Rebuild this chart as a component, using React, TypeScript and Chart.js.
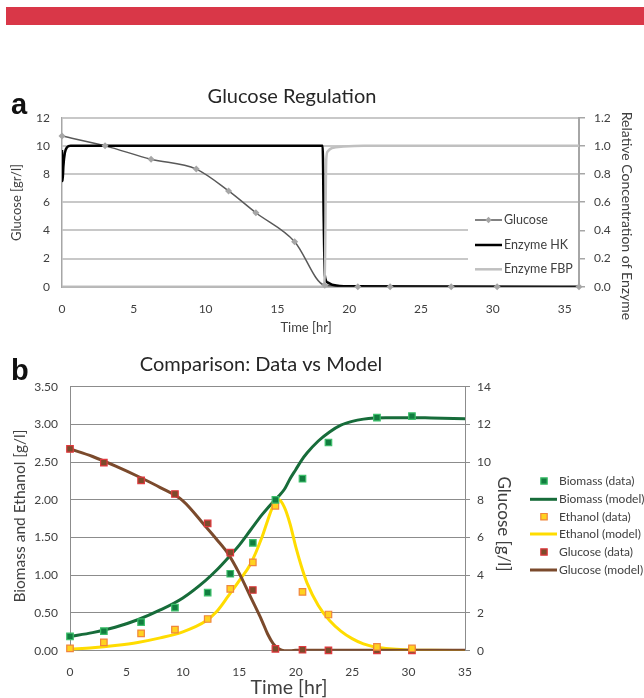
import React, { useEffect, useRef } from 'react';
import { Chart, registerables } from 'chart.js';

Chart.register(...registerables);

const FONT = 'Lato, "Open Sans", "Noto Sans", sans-serif';
const TXT = '#404040';

// ---------- Panel a: Glucose Regulation ----------
const timeGlucoseA = [0, 3.0, 6.2, 9.35, 11.6, 13.5, 16.2, 18.3, 20.6, 22.85, 27.1, 30.3, 36];
const glucoseA = [10.7, 10.0, 9.05, 8.35, 6.8, 5.25, 3.2, 0.1, 0, 0, 0, 0, 0];
const timeHK = [0, 0.04, 0.1, 0.2, 0.35, 0.6, 18.15, 18.22, 18.3, 18.5, 18.9, 20, 36];
const enzymeHK = [0.97, 0.75, 0.86, 0.95, 0.99, 1.0, 1.0, 0.5, 0.08, 0.03, 0.012, 0.003, 0];
const timeFBP = [0, 18.2, 18.3, 18.4, 18.5, 18.8, 19.6, 21, 36];
const enzymeFBP = [0, 0, 0.1, 0.9, 0.96, 0.985, 0.995, 1.0, 1.0];
const labelsA = ['Glucose', 'Enzyme HK', 'Enzyme FBP'];

// ---------- Panel b: Comparison: Data vs Model ----------
const timeData = [0, 3, 6.3, 9.3, 12.2, 14.2, 16.2, 18.2, 20.6, 22.9, 27.2, 30.3];
const biomassData = [0.19, 0.26, 0.38, 0.57, 0.77, 1.02, 1.43, 2.0, 2.28, 2.76, 3.09, 3.11];
const ethanolData = [0.03, 0.11, 0.23, 0.28, 0.42, 0.82, 1.17, 1.92, 0.78, 0.48, 0.05, 0.03];
const glucoseData = [10.7, 9.97, 9.03, 8.31, 6.75, 5.2, 3.22, 0.1, 0.05, 0.02, 0.02, 0.02];

const timeModel = [0, 2, 4, 6, 8, 10, 12, 13, 14, 15, 16, 17, 17.5, 18, 18.5, 19, 19.5, 20, 20.5, 21, 22, 23, 24, 25, 26, 27, 28, 30, 32, 35];
const biomassModel = [0.19, 0.24, 0.31, 0.41, 0.54, 0.7, 0.93, 1.07, 1.23, 1.4, 1.6, 1.8, 1.89, 1.97, 2.05, 2.14, 2.28, 2.4, 2.52, 2.62, 2.78, 2.9, 2.99, 3.04, 3.07, 3.085, 3.09, 3.09, 3.085, 3.075];
const ethanolModel = [0.02, 0.04, 0.07, 0.11, 0.17, 0.25, 0.39, 0.52, 0.72, 0.93, 1.15, 1.5, 1.72, 1.92, 2.0, 1.9, 1.68, 1.38, 1.12, 0.9, 0.6, 0.4, 0.26, 0.16, 0.09, 0.05, 0.03, 0.01, 0.005, 0];
const glucoseModel = [10.7, 10.3, 9.8, 9.25, 8.65, 7.95, 6.6, 5.9, 5.15, 4.1, 2.85, 1.6, 0.9, 0.38, 0.1, 0, 0, 0.02, 0.03, 0.03, 0.03, 0.02, 0.02, 0.02, 0.02, 0.02, 0.02, 0.02, 0.02, 0.02];
const labelsB = ['Biomass (data)', 'Biomass (model)', 'Ethanol (data)', 'Ethanol (model)', 'Glucose (data)', 'Glucose (model)'];

const pts = (xs: number[], ys: number[]) => xs.map((x, i) => ({ x, y: ys[i] }));

function drawText(ctx: CanvasRenderingContext2D, s: string, x: number, y: number, font: string, color: string, rot = 0, align: CanvasTextAlign = 'center', baseline: CanvasTextBaseline = 'middle') {
  ctx.save();
  ctx.translate(x, y);
  ctx.rotate(rot);
  ctx.font = font;
  ctx.fillStyle = color;
  ctx.textAlign = align;
  ctx.textBaseline = baseline;
  ctx.fillText(s, 0, 0);
  ctx.restore();
}

function drawLine(ctx: CanvasRenderingContext2D, x1: number, x2: number, y: number, color: string, w: number) {
  ctx.save();
  ctx.strokeStyle = color;
  ctx.lineWidth = w;
  ctx.beginPath();
  ctx.moveTo(x1, y);
  ctx.lineTo(x2, y);
  ctx.stroke();
  ctx.restore();
}

function drawSquare(ctx: CanvasRenderingContext2D, cx: number, cy: number, side: number, fill: string, stroke: string, lw: number) {
  ctx.save();
  ctx.fillStyle = fill;
  ctx.strokeStyle = stroke;
  ctx.lineWidth = lw;
  ctx.beginPath();
  ctx.rect(cx - side / 2, cy - side / 2, side, side);
  ctx.fill();
  ctx.stroke();
  ctx.restore();
}

function drawDiamond(ctx: CanvasRenderingContext2D, cx: number, cy: number, r: number, fill: string) {
  ctx.save();
  ctx.fillStyle = fill;
  ctx.beginPath();
  ctx.moveTo(cx, cy - r);
  ctx.lineTo(cx + r, cy);
  ctx.lineTo(cx, cy + r);
  ctx.lineTo(cx - r, cy);
  ctx.closePath();
  ctx.fill();
  ctx.restore();
}

const tickFont = { family: FONT, size: 12 };

function configA(): any {
  const decor = {
    id: 'decorA',
    beforeDatasetsDraw(chart: any) {
      const ctx = chart.ctx;
      ctx.save();
      ctx.fillStyle = '#ffffff';
      ctx.fillRect(468, 127, 110, 74);
      ctx.restore();
    },
    afterDraw(chart: any) {
      const ctx = chart.ctx;
      drawText(ctx, 'a', 11, 33.5, `bold 29px "Liberation Sans", Arial, sans-serif`, '#111', 0, 'left', 'alphabetic');
      drawText(ctx, 'Glucose Regulation', 292, 17, `20px ${FONT}`, '#262626');
      drawText(ctx, 'Glucose [gr/l]', 17, 122.5, `13px ${FONT}`, TXT, -Math.PI / 2);
      drawText(ctx, 'Relative Concentration of Enzyme', 627, 136, `14px ${FONT}`, TXT, Math.PI / 2);
      drawText(ctx, 'Time [hr]', 306, 248, `13px ${FONT}`, TXT);
      // legend
      const ds = chart.data.datasets;
      const rows = [140, 165, 189.3];
      const items = [ds[0], ds[2], ds[3]];
      items.forEach((d: any, i: number) => {
        const y = rows[i];
        drawLine(ctx, 475, 502, y, d.borderColor, d.borderWidth);
        if (i === 0) drawDiamond(ctx, 488.5, y, 3.2, '#a6a6a6');
        drawText(ctx, labelsA[i], 504, y, `12.5px ${FONT}`, TXT, 0, 'left');
      });
    },
  };
  return {
    type: 'line',
    data: {
      datasets: [
        { label: labelsA[0], data: pts(timeGlucoseA, glucoseA), yAxisID: 'y', showLine: false, pointStyle: 'rectRot', pointRadius: 3.5, pointBackgroundColor: '#a6a6a6', pointBorderColor: '#a6a6a6', pointBorderWidth: 0, borderColor: '#595959', borderWidth: 1.5, order: 0, clip: false },
        { label: labelsA[0] + ' line', data: pts(timeGlucoseA, glucoseA), yAxisID: 'y', borderColor: '#595959', borderWidth: 1.5, pointRadius: 0, cubicInterpolationMode: 'monotone', order: 3 },
        { label: labelsA[1], data: pts(timeHK, enzymeHK), yAxisID: 'y2', borderColor: '#000000', borderWidth: 2.5, pointRadius: 0, cubicInterpolationMode: 'monotone', order: 2 },
        { label: labelsA[2], data: pts(timeFBP, enzymeFBP), yAxisID: 'y2', borderColor: '#c0c0c0', borderWidth: 2.5, pointRadius: 0, cubicInterpolationMode: 'monotone', order: 1 },
      ],
    },
    options: {
      responsive: false,
      animation: false,
      events: [],
      layout: { padding: { top: 37.7, left: 0, right: 0, bottom: 0 } },
      plugins: { legend: { display: false }, title: { display: false }, tooltip: { enabled: false } },
      scales: {
        x: {
          type: 'linear', position: 'bottom', min: 0, max: 36,
          ticks: { stepSize: 5, includeBounds: false, padding: 15, maxRotation: 0, font: tickFont, color: TXT },
          grid: { display: false, drawTicks: false },
          border: { color: '#a6a6a6', width: 1.5 },
          afterFit: (s: any) => { s.height = 53.3; },
        },
        y: {
          position: 'left', min: 0, max: 12,
          ticks: { stepSize: 2, includeBounds: false, padding: 12, font: tickFont, color: TXT },
          grid: { color: '#c8c8c8', lineWidth: 2, drawTicks: false },
          border: { color: '#a6a6a6', width: 1.5 },
          afterFit: (s: any) => { s.width = 62; },
        },
        y2: {
          position: 'right', min: 0, max: 1.2,
          ticks: { stepSize: 0.2, includeBounds: false, padding: 9, font: tickFont, color: TXT, callback: (v: number) => v.toFixed(1) },
          grid: { drawOnChartArea: false, drawTicks: true, tickLength: 6, color: '#a6a6a6', lineWidth: 1.5 },
          border: { color: '#a6a6a6', width: 2 },
          afterFit: (s: any) => { s.width = 65; },
        },
      },
    },
    plugins: [decor],
  };
}

function configB(): any {
  const green = '#176c3a';
  const yellow = '#ffdc00';
  const brown = '#7b4a2c';
  const decor = {
    id: 'decorB',
    afterDraw(chart: any) {
      const ctx = chart.ctx;
      drawText(ctx, 'b', 11, 40, `bold 29px "Liberation Sans", Arial, sans-serif`, '#111', 0, 'left', 'alphabetic');
      drawText(ctx, 'Comparison: Data vs Model', 261, 25, `20px ${FONT}`, '#262626');
      drawText(ctx, 'Biomass and Ethanol [g/l]', 20, 176, `15.5px ${FONT}`, TXT, -Math.PI / 2);
      drawText(ctx, 'Glucose [g/l]', 503, 184, `17px ${FONT}`, TXT, Math.PI / 2);
      drawText(ctx, 'Time [hr]', 289, 348, `19.5px ${FONT}`, TXT);
      const ds = chart.data.datasets;
      const rows = [141, 159.3, 176.7, 194, 212, 230];
      ds.forEach((d: any, i: number) => {
        const y = rows[i];
        if (d.showLine === false) {
          drawSquare(ctx, 544, y, 6.4, d.pointBackgroundColor, d.pointBorderColor, 1.2);
        } else {
          drawLine(ctx, 530, 557, y, d.borderColor, 3);
        }
        drawText(ctx, d.label, 559, y, `12px ${FONT}`, TXT, 0, 'left');
      });
    },
  };
  const marker = (label: string, xs: number[], ys: number[], fill: string, stroke: string, axis: string) => ({
    label, data: pts(xs, ys), yAxisID: axis, showLine: false, pointStyle: 'rect', pointRadius: 4.6,
    pointBackgroundColor: fill, pointBorderColor: stroke, pointBorderWidth: 1.2, order: 0, clip: false,
  });
  const curve = (label: string, xs: number[], ys: number[], color: string, axis: string, order: number) => ({
    label, data: pts(xs, ys), yAxisID: axis, borderColor: color, borderWidth: 3, pointRadius: 0,
    cubicInterpolationMode: 'monotone', order,
  });
  return {
    type: 'line',
    data: {
      datasets: [
        marker(labelsB[0], timeData, biomassData, '#117d3f', '#3cbf6a', 'y'),
        curve(labelsB[1], timeModel, biomassModel, green, 'y', 3),
        marker(labelsB[2], timeData, ethanolData, '#ffd21f', '#f0853c', 'y'),
        curve(labelsB[3], timeModel, ethanolModel, yellow, 'y', 2),
        marker(labelsB[4], timeData, glucoseData, '#7d4b2b', '#e0393e', 'y2'),
        curve(labelsB[5], timeModel, glucoseModel, brown, 'y2', 1),
      ],
    },
    options: {
      responsive: false,
      animation: false,
      events: [],
      layout: { padding: { top: 46.7, left: 0, right: 0, bottom: 0 } },
      plugins: { legend: { display: false }, title: { display: false }, tooltip: { enabled: false } },
      scales: {
        x: {
          type: 'linear', position: 'bottom', min: 0, max: 35,
          ticks: { stepSize: 5, includeBounds: false, padding: 14, maxRotation: 0, font: tickFont, color: TXT },
          grid: { display: false, drawTicks: false },
          border: { color: '#8c8c8c', width: 1 },
          afterFit: (s: any) => { s.height = 47.3; },
        },
        y: {
          position: 'left', min: 0, max: 3.5,
          ticks: { stepSize: 0.5, includeBounds: false, padding: 12, font: tickFont, color: TXT, callback: (v: number) => v.toFixed(2) },
          grid: { color: '#8c8c8c', lineWidth: 1, drawTicks: false },
          border: { color: '#8c8c8c', width: 1 },
          afterFit: (s: any) => { s.width = 70; },
        },
        y2: {
          position: 'right', min: 0, max: 14,
          ticks: { stepSize: 2, includeBounds: false, padding: 7, font: tickFont, color: TXT },
          grid: { drawOnChartArea: false, drawTicks: true, tickLength: 5, color: '#8c8c8c', lineWidth: 1 },
          border: { color: '#8c8c8c', width: 1 },
          afterFit: (s: any) => { s.width = 179; },
        },
      },
    },
    plugins: [decor],
  };
}

export default function App() {
  const refA = useRef<HTMLCanvasElement>(null);
  const refB = useRef<HTMLCanvasElement>(null);
  useEffect(() => {
    const a = new Chart(refA.current as HTMLCanvasElement, configA());
    const b = new Chart(refB.current as HTMLCanvasElement, configB());
    return () => {
      a.destroy();
      b.destroy();
    };
  }, []);
  return (
    <div style={{ position: 'absolute', left: 0, top: 0, width: 644, height: 698, background: '#ffffff', overflow: 'hidden' }}>
      <div style={{ position: 'absolute', left: 6, top: 7, width: 638, height: 18, background: '#d93748' }} />
      <canvas ref={refA} width={644} height={260} style={{ position: 'absolute', left: 0, top: 80, display: 'block' }} />
      <canvas ref={refB} width={644} height={358} style={{ position: 'absolute', left: 0, top: 340, display: 'block' }} />
    </div>
  );
}
